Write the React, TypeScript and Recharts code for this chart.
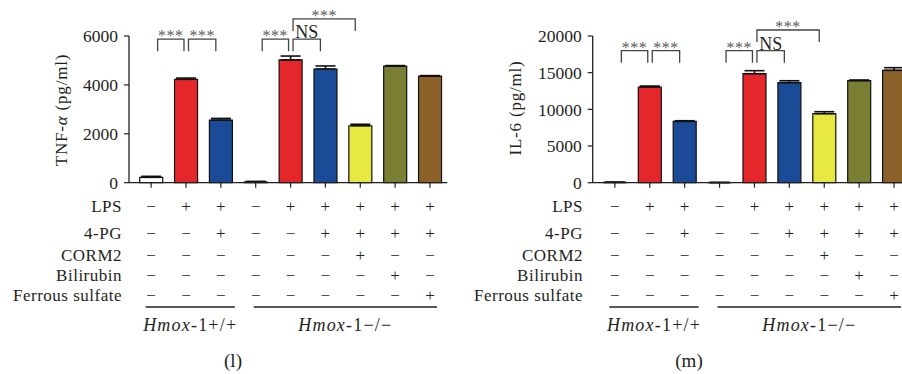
import React from 'react';
import { BarChart, Bar, XAxis, YAxis, ErrorBar, Cell, ReferenceLine } from 'recharts';

const categories = ['g1', 'g2', 'g3', 'g4', 'g5', 'g6', 'g7', 'g8', 'g9'];
const tnfValues = [220, 4230, 2560, 30, 5020, 4650, 2330, 4770, 4360];
const tnfErrors = [40, 50, 70, 25, 160, 125, 60, 20, 20];
const il6Values = [50, 13050, 8360, 20, 14860, 13640, 9410, 13910, 15320];
const il6Errors = [30, 130, 90, 20, 410, 260, 270, 90, 360];
const barColors = ['#ffffff', '#e5262b', '#1b4a96', '#ffffff', '#e5262b', '#1b4a96', '#e8e842', '#7b7f34', '#8c6129'];

const rowLabels = ['LPS', '4-PG', 'CORM2', 'Bilirubin', 'Ferrous sulfate'];
const lps = ['−', '+', '+', '−', '+', '+', '+', '+', '+'];
const pg4 = ['−', '−', '+', '−', '−', '+', '+', '+', '+'];
const corm2 = ['−', '−', '−', '−', '−', '−', '+', '−', '−'];
const bilirubin = ['−', '−', '−', '−', '−', '−', '−', '+', '−'];
const ferrous = ['−', '−', '−', '−', '−', '−', '−', '−', '+'];
const tableRows = [lps, pg4, corm2, bilirubin, ferrous];

const genotypeGroups = [
  { from: 0, to: 2, suffix: '-1+/+' },
  { from: 3, to: 8, suffix: '-1−/−' },
];

const tnfTicks = [0, 2000, 4000, 6000];
const il6Ticks = [0, 5000, 10000, 15000, 20000];

const brackets = [
  { from: 0, to: 1, label: '***', level: 0 },
  { from: 1, to: 2, label: '***', level: 0 },
  { from: 3, to: 4, label: '***', level: 0 },
  { from: 4, to: 5, label: 'NS', level: 0 },
  { from: 4, to: 6, label: '***', level: 1 },
];
const tnfBracketLevels = [5870, 6700];
const il6BracketLevels = [18000, 20820];

const FONT = '"Liberation Serif", "DejaVu Serif", serif';
const INK = '#231f20';
const ROW_Y = [206, 233.3, 255, 275.7, 295];
const GROUP_LINE_Y = 307;
const GROUP_TEXT_Y = 330.5;
const GROUP_PAD = [
  [-5.5, 14],
  [-2, 7],
];

function TableTick(props: any) {
  const { x, rowLabelX } = props;
  const index = props.index ?? props.payload?.index ?? 0;
  return (
    <g>
      {tableRows.map((row, ri) => (
        <text key={ri} x={x} y={ROW_Y[ri]} textAnchor="middle" dominantBaseline="central"
          fontFamily={FONT} fontSize={17} fill={INK}>{row[index]}</text>
      ))}
      {index === 0 &&
        rowLabels.map((l, ri) => (
          <text key={'l' + ri} x={rowLabelX} y={ROW_Y[ri]} textAnchor="end" dominantBaseline="central"
            fontFamily={FONT} fontSize={17} letterSpacing={0.5} fill={INK}>{l}</text>
        ))}
    </g>
  );
}

function makeBracketShape(b: any) {
  const sharedLeft = brackets.some((o) => o !== b && o.to === b.from);
  const sharedRight = brackets.some((o) => o !== b && o.from === b.to);
  return (p: any) => {
    const left = p.x1 + (sharedLeft ? 2.5 : 6.5);
    const right = p.x2 - (sharedRight ? 2 : 5);
    const top = p.y1;
    const mid = (left + right) / 2;
    const isNS = b.label === 'NS';
    return (
      <g>
        <path d={`M${left},${top + 12} L${left},${top} L${right},${top} L${right},${top + 12}`}
          fill="none" stroke="#444" strokeWidth={1.3} />
        {isNS ? (
          <text x={mid} y={top - 1} textAnchor="middle" fontFamily={FONT} fontSize={18} fill={INK}>NS</text>
        ) : (
          <text x={mid} y={top + 2} textAnchor="middle" fontFamily={FONT} fontSize={16}
            letterSpacing={0.5} fill="#5a5a5a">{b.label}</text>
        )}
      </g>
    );
  };
}

function makeGroupShape(gi: number) {
  const g = genotypeGroups[gi];
  return (p: any) => {
    const left = p.x1 + GROUP_PAD[gi][0];
    const right = p.x2 + GROUP_PAD[gi][1];
    return (
      <g>
        <line x1={left} x2={right} y1={GROUP_LINE_Y} y2={GROUP_LINE_Y} stroke={INK} strokeWidth={1.4} />
        <text x={(left + right) / 2} y={GROUP_TEXT_Y} textAnchor="middle" fontFamily={FONT} fontSize={18}
          letterSpacing={1.2} fill={INK}>
          <tspan fontStyle="italic">Hmox</tspan>
          <tspan>{g.suffix}</tspan>
        </text>
      </g>
    );
  };
}

function Panel(props: any) {
  const {
    values, errors, ticks, domainMax, yLabel, yAxisWidth, marginRight,
    yLabelX, yLabelY, levels, panelLabel, panelLabelX, rowLabelX,
  } = props;
  const data = categories.map((name, i) => ({ name, value: values[i], err: [0, errors[i]] }));
  return (
    <BarChart width={460} height={374} data={data}
      margin={{ top: 36, right: marginRight, bottom: 161.3, left: 0 }}>
      <XAxis dataKey="name" interval={0} padding={{ left: 4.7, right: 0 }} height={30}
        axisLine={{ stroke: INK, strokeWidth: 1.3 }} tickLine={{ stroke: INK, strokeWidth: 1.2 }} tickSize={5}
        tick={(p: any) => <TableTick {...p} rowLabelX={rowLabelX} />} />
      <YAxis domain={[0, domainMax]} ticks={ticks} width={yAxisWidth} tickSize={5} tickMargin={6}
        axisLine={{ stroke: INK, strokeWidth: 1.3 }} tickLine={{ stroke: INK, strokeWidth: 1.2 }}
        tick={{ fontFamily: FONT, fontSize: 17.5, fill: INK }}
        label={() => (
          <text x={yLabelX} y={yLabelY} transform={`rotate(-90 ${yLabelX} ${yLabelY})`} textAnchor="middle"
            dominantBaseline="central" fontFamily={FONT} fontSize={17} letterSpacing={0.8} fill={INK}>
            {yLabel}
          </text>
        )} />
      <Bar dataKey="value" barSize={23} stroke="#111" strokeWidth={1.2} isAnimationActive={false}>
        {data.map((d, i) => (
          <Cell key={d.name} fill={barColors[i]} />
        ))}
        <ErrorBar dataKey="err" width={10} stroke="#111" strokeWidth={1.6} isAnimationActive={false} />
      </Bar>
      {brackets.map((b, i) => (
        <ReferenceLine key={'b' + i} ifOverflow="visible"
          segment={[{ x: categories[b.from], y: levels[b.level] }, { x: categories[b.to], y: levels[b.level] }]}
          shape={makeBracketShape(b)} />
      ))}
      {genotypeGroups.map((g, gi) => (
        <ReferenceLine key={'g' + gi} ifOverflow="visible"
          segment={[{ x: categories[g.from], y: 0 }, { x: categories[g.to], y: 0 }]}
          shape={makeGroupShape(gi)} />
      ))}
      <text x={panelLabelX} y={360} textAnchor="middle" dominantBaseline="central" fontFamily={FONT} fontSize={19} fill={INK}>
        {panelLabel}
      </text>
    </BarChart>
  );
}

export default function App() {
  return (
    <div style={{ position: 'absolute', left: 0, top: 0, width: 902, height: 374, overflow: 'hidden', background: '#fff' }}>
      <div style={{ position: 'absolute', left: 0, top: 0 }}>
        <Panel values={tnfValues} errors={tnfErrors} ticks={tnfTicks} domainMax={6000}
          yLabel={<><tspan>TNF-</tspan><tspan fontStyle="italic">α</tspan><tspan> (pg/ml)</tspan></>}
          yAxisWidth={129} marginRight={12.6} yLabelX={61} yLabelY={110}
          levels={tnfBracketLevels} panelLabel="(l)" panelLabelX={233} rowLabelX={122} />
      </div>
      <div style={{ position: 'absolute', left: 460, top: 0 }}>
        <Panel values={il6Values} errors={il6Errors} ticks={il6Ticks} domainMax={20000}
          yLabel="IL-6 (pg/ml)"
          yAxisWidth={132.7} marginRight={8.5} yLabelX={55} yLabelY={108}
          levels={il6BracketLevels} panelLabel="(m)" panelLabelX={229} rowLabelX={123} />
      </div>
    </div>
  );
}
